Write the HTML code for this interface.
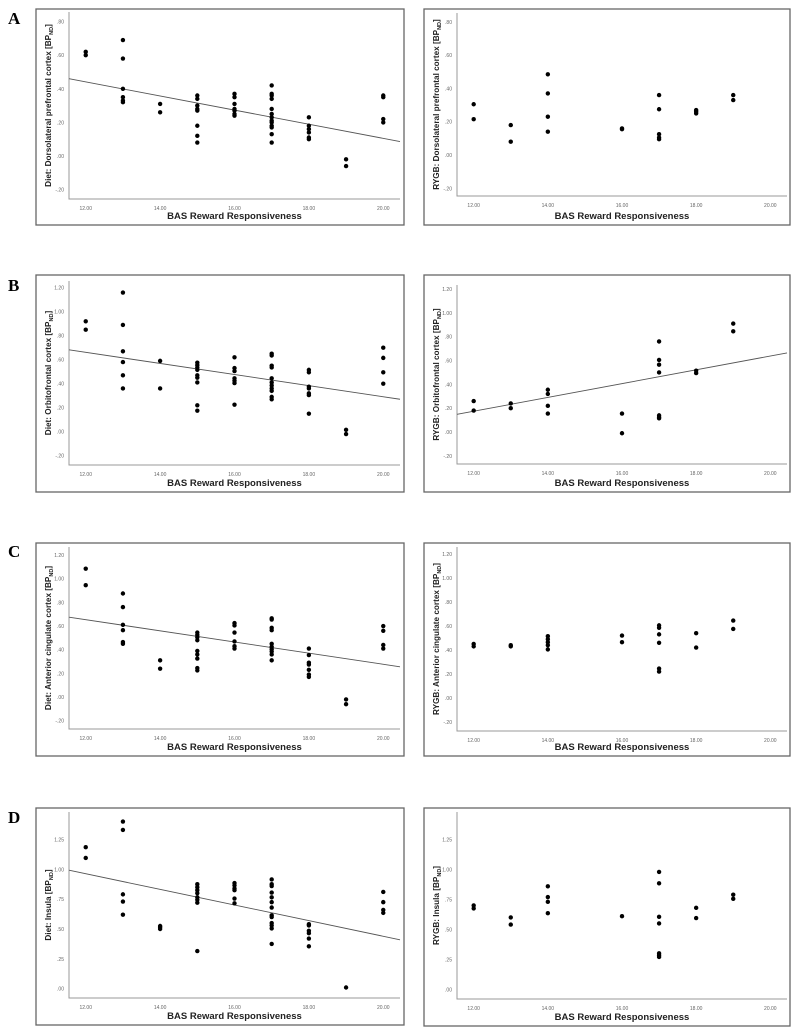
<!DOCTYPE html>
<html><head><meta charset="utf-8">
<style>
html,body{margin:0;padding:0;background:#fff;}
svg{display:block;}
text{font-family:"Liberation Sans",sans-serif;}
text.serif{font-family:"Liberation Serif",serif;}
</style></head>
<body>
<svg id="fig" width="798" height="1033" viewBox="0 0 798 1033"></svg>
<script>
// ---- data ----
const xCats = [12,13,14,15,16,17,18,19,20];
const xTickVals = [12,14,16,18,20];
const xTickLabels = ["12.00","14.00","16.00","18.00","20.00"];

const aDietX = [12,13,14,15,16,17,18,19,20];
const aDietY = [[.62,.60],[.69,.58,.40,.35,.33,.32],[.31,.26],[.36,.34,.30,.28,.27,.18,.12,.08],[.37,.35,.31,.28,.27,.25,.24],[.42,.37,.36,.34,.28,.25,.23,.21,.20,.18,.17,.13,.08],[.23,.18,.16,.14,.11,.10],[-.02,-.06],[.36,.35,.22,.20]];
const aDietFit = [0.945,-0.042];
const aRygbX = [12,13,14,16,17,18,19];
const aRygbY = [[.305,.215],[.18,.08],[.485,.37,.23,.14],[.16,.155],[.36,.275,.125,.105,.095],[.27,.26,.25],[.36,.33]];
const aTickVals = [.8,.6,.4,.2,0,-.2];
const aTickLabels = [".80",".60",".40",".20",".00","-.20"];

const bDietX = [12,13,14,15,16,17,18,19,20];
const bDietY = [[.92,.85],[1.16,.89,.67,.58,.47,.36],[.59,.36],[.575,.555,.535,.515,.47,.45,.41,.22,.175],[.62,.53,.505,.445,.425,.405,.225],[.65,.635,.55,.535,.445,.41,.385,.36,.34,.29,.27],[.515,.495,.375,.36,.32,.305,.15],[.015,-.02],[.70,.615,.495,.40]];
const bDietFit = [1.217,-0.0463];
const bRygbX = [12,13,14,16,17,18,19];
const bRygbY = [[.26,.18],[.24,.20],[.355,.32,.22,.155],[.155,-.01],[.76,.605,.565,.50,.14,.125,.115],[.515,.495],[.91,.845]];
const bRygbFit = [-0.52,0.0579];
const bcTickVals = [1.2,1.0,.8,.6,.4,.2,0,-.2];
const bcTickLabels = ["1.20","1.00",".80",".60",".40",".20",".00","-.20"];

const cDietX = [12,13,14,15,16,17,18,19,20];
const cDietY = [[1.085,.945],[.875,.76,.61,.565,.465,.45],[.31,.24],[.545,.525,.505,.48,.39,.36,.325,.245,.225],[.625,.605,.545,.47,.43,.41],[.665,.655,.585,.565,.45,.425,.405,.385,.36,.31],[.41,.355,.29,.275,.23,.19,.17],[-.02,-.06],[.60,.56,.44,.41]];
const cDietFit = [1.219,-0.0471];
const cRygbX = [12,13,14,16,17,18,19];
const cRygbY = [[.45,.43],[.44,.43],[.515,.49,.465,.44,.405],[.52,.465],[.605,.585,.53,.46,.245,.22],[.54,.42],[.645,.575]];

const dDietX = [12,13,14,15,16,17,18,19,20];
const dDietY = [[1.185,1.095],[1.40,1.33,.79,.73,.62],[.525,.515,.50],[.875,.85,.825,.80,.765,.745,.72,.315],[.885,.865,.84,.825,.755,.715],[.915,.875,.86,.805,.765,.725,.68,.615,.60,.55,.53,.505,.375],[.54,.53,.485,.465,.42,.355],[.01],[.81,.725,.66,.635]];
const dDietFit = [1.749,-0.0655];
const dRygbX = [12,13,14,16,17,18,19];
const dRygbY = [[.70,.675],[.60,.54],[.86,.77,.73,.635],[.61],[.98,.885,.605,.55,.30,.285,.27],[.68,.595],[.79,.755]];
const dTickVals = [1.25,1.0,.75,.5,.25,0];
const dTickLabels = ["1.25","1.00",".75",".50",".25",".00"];

// ---- rendering ----
const NS = "http://www.w3.org/2000/svg";
const svg = document.getElementById("fig");
function mk(tag, attrs, parent){
  const e = document.createElementNS(NS, tag);
  for (const k in attrs) e.setAttribute(k, attrs[k]);
  (parent||svg).appendChild(e);
  return e;
}
const XMIN = 11.55, XMAX = 20.45;

function panel(cfg){
  const g = mk("g", {});
  
  
  const fr = mk("rect", {x:cfg.fx, y:cfg.fy, width:cfg.fw, height:cfg.fh, fill:"none", stroke:"#666", "stroke-width":1.3}, g);
  
  
  const L = cfg.pl, R = cfg.pr, T = cfg.pt, B = cfg.pb;
  const xs = v => L + (v - XMIN) / (XMAX - XMIN) * (R - L);
  const ys = v => B - (v - cfg.ymin) / (cfg.ymax - cfg.ymin) * (B - T);
  const ax = mk("path", {d:`M${L},${T} L${L},${B} L${R},${B}`, fill:"none", stroke:"#999", "stroke-width":1}, g);
  
  
  xTickVals.forEach((v,i)=>{
    const t = mk("text", {x:xs(v), y:B+11, "font-size":5, fill:"#666", "text-anchor":"middle"}, g);
    t.textContent = xTickLabels[i];
    
    
  });
  cfg.yt.forEach((v,i)=>{
    const t = mk("text", {x:L-5, y:ys(v)+2, "font-size":5, fill:"#666", "text-anchor":"end"}, g);
    t.textContent = cfg.ytl[i];
    
    
  });
  const xt = mk("text", {x:(L+R)/2, y:cfg.fy+cfg.fh-6, "font-size":9.5, "font-weight":"bold", fill:"#222", "text-anchor":"middle"}, g);
  xt.textContent = "BAS Reward Responsiveness";
  
  
  const cy = (T+B)/2, cx = cfg.fx + 15;
  const yt = mk("text", {x:cx, y:cy, "font-size":8.2, "font-weight":"bold", fill:"#222", "text-anchor":"middle", transform:`rotate(-90 ${cx} ${cy})`}, g);
  
  
  yt.appendChild(document.createTextNode(cfg.ylab + " [BP"));
  const sub = mk("tspan", {"font-size":5.5, dy:2}, yt);
  sub.textContent = "ND";
  const cl = mk("tspan", {dy:-2}, yt);
  cl.textContent = "]";
  if (cfg.fit){
    const ln = mk("line", {x1:xs(XMIN), y1:ys(cfg.fit[0]+cfg.fit[1]*XMIN), x2:xs(XMAX), y2:ys(cfg.fit[0]+cfg.fit[1]*XMAX), stroke:"#555", "stroke-width":0.9}, g);
    
    
  }
  cfg.xv.forEach((xv,i)=>{
    cfg.yv[i].forEach(v=>{
      const c = mk("circle", {cx:xs(xv), cy:ys(v), r:2.2, fill:"#000"}, g);
      
      
    });
  });
}

function letter(ch, y){
  const t = mk("text", {x:8, y:y, "font-size":17, "font-weight":"bold", fill:"#000", "class":"serif"});
  t.textContent = ch;
  
  
}
letter("A", 24); letter("B", 291); letter("C", 557); letter("D", 823);

const LF = {fx:36, fw:368, pl:69, pr:400};
const RF = {fx:424, fw:366, pl:457, pr:787};

panel(Object.assign({}, LF, {name:"panel-a-diet", fy:9, fh:216, pt:12, pb:199, ymin:-.256, ymax:.857, yt:aTickVals, ytl:aTickLabels, ylab:"Diet: Dorsolateral prefrontal cortex", xv:aDietX, yv:aDietY, fit:aDietFit}));
panel(Object.assign({}, RF, {name:"panel-a-rygb", fy:9, fh:216, pt:13, pb:196, ymin:-.246, ymax:.853, yt:aTickVals, ytl:aTickLabels, ylab:"RYGB: Dorsolateral prefrontal cortex", xv:aRygbX, yv:aRygbY}));
panel(Object.assign({}, LF, {name:"panel-b-diet", fy:275, fh:217, pt:281, pb:465, ymin:-.278, ymax:1.256, yt:bcTickVals, ytl:bcTickLabels, ylab:"Diet: Orbitofrontal cortex", xv:bDietX, yv:bDietY, fit:bDietFit}));
panel(Object.assign({}, RF, {name:"panel-b-rygb", fy:275, fh:217, pt:285, pb:464, ymin:-.268, ymax:1.234, yt:bcTickVals, ytl:bcTickLabels, ylab:"RYGB: Orbitofrontal cortex", xv:bRygbX, yv:bRygbY, fit:bRygbFit}));
panel(Object.assign({}, LF, {name:"panel-c-diet", fy:543, fh:213, pt:547, pb:729, ymin:-.27, ymax:1.268, yt:bcTickVals, ytl:bcTickLabels, ylab:"Diet: Anterior cingulate cortex", xv:cDietX, yv:cDietY, fit:cDietFit}));
panel(Object.assign({}, RF, {name:"panel-c-rygb", fy:543, fh:213, pt:547, pb:731, ymin:-.275, ymax:1.258, yt:bcTickVals, ytl:bcTickLabels, ylab:"RYGB: Anterior cingulate cortex", xv:cRygbX, yv:cRygbY}));
panel(Object.assign({}, LF, {name:"panel-d-diet", fy:808, fh:217, pt:812, pb:998, ymin:-.078, ymax:1.48, yt:dTickVals, ytl:dTickLabels, ylab:"Diet: Insula", xv:dDietX, yv:dDietY, fit:dDietFit}));
panel(Object.assign({}, RF, {name:"panel-d-rygb", fy:808, fh:218, pt:812, pb:999, ymin:-.081, ymax:1.48, yt:dTickVals, ytl:dTickLabels, ylab:"RYGB: Insula", xv:dRygbX, yv:dRygbY}));
</script>
</body></html>
